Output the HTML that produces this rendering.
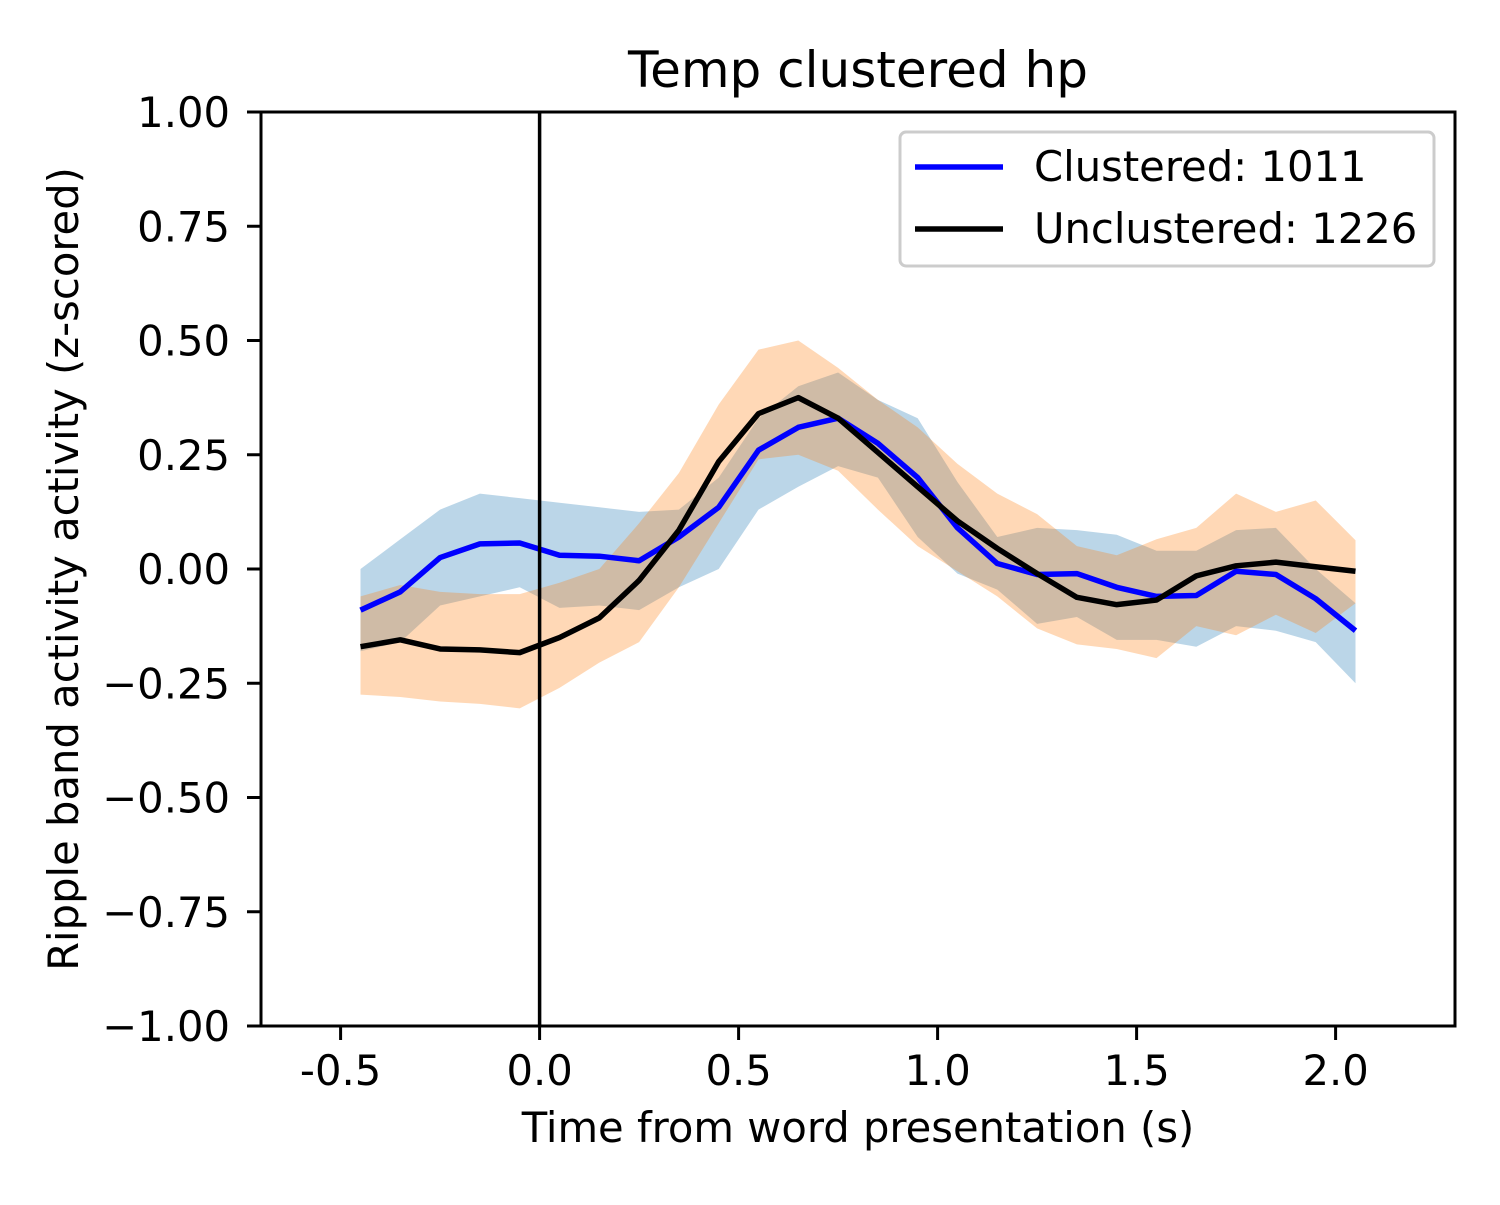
<!DOCTYPE html>
<html><head><meta charset="utf-8"><style>
body{margin:0;background:#fff}
svg text{font-family:"DejaVu Sans","Liberation Sans",sans-serif;fill:#000}
</style></head><body>
<svg id="chart" width="1500" height="1200" xmlns="http://www.w3.org/2000/svg">
<rect width="1500" height="1200" fill="#fff"/>
<g id="bands"></g><g id="lines"></g>
<g id="axes"></g>
<text x="858" y="87" font-size="50" text-anchor="middle">Temp clustered hp</text>
<text x="858" y="1142" font-size="41.7" text-anchor="middle">Time from word presentation (s)</text>
<text transform="translate(78,569) rotate(-90)" font-size="41.7" text-anchor="middle">Ripple band activity activity (z-scored)</text>
<g>
<rect x="900" y="132" width="534" height="134" rx="6" fill="#fff" fill-opacity="0.8" stroke="#ccc" stroke-width="3"/>
<line x1="915" y1="167" x2="1003" y2="167" stroke="#0000ff" stroke-width="5.5"/>
<text x="1034" y="181" font-size="41.7">Clustered: 1011</text>
<line x1="915" y1="229" x2="1003" y2="229" stroke="#000" stroke-width="5.5"/>
<text x="1034" y="243" font-size="41.7">Unclustered: 1226</text>
</g>
</svg>
<script>
const times=[-0.45,-0.35,-0.25,-0.15,-0.05,0.05,0.15,0.25,0.35,0.45,0.55,0.65,0.75,0.85,0.95,1.05,1.15,1.25,1.35,1.45,1.55,1.65,1.75,1.85,1.95,2.05];
const clustered=[-0.09,-0.05,0.025,0.055,0.057,0.03,0.028,0.018,0.07,0.135,0.26,0.31,0.33,0.275,0.2,0.09,0.012,-0.012,-0.01,-0.04,-0.06,-0.058,-0.005,-0.012,-0.065,-0.135];
const unclustered=[-0.17,-0.155,-0.175,-0.177,-0.183,-0.15,-0.107,-0.025,0.085,0.235,0.34,0.375,0.33,0.255,0.18,0.105,0.045,-0.01,-0.062,-0.078,-0.068,-0.015,0.007,0.015,0.005,-0.005];
const clusteredUpper=[0.0,0.065,0.13,0.165,0.155,0.145,0.135,0.125,0.13,0.2,0.33,0.4,0.43,0.37,0.33,0.19,0.07,0.09,0.085,0.075,0.04,0.04,0.085,0.09,0.0,-0.075];
const clusteredLower=[-0.18,-0.16,-0.08,-0.06,-0.04,-0.085,-0.08,-0.09,-0.04,0.0,0.13,0.18,0.225,0.2,0.07,-0.01,-0.045,-0.12,-0.105,-0.155,-0.155,-0.17,-0.125,-0.135,-0.16,-0.25];
const unclusteredUpper=[-0.06,-0.035,-0.05,-0.055,-0.055,-0.03,0.0,0.1,0.21,0.36,0.48,0.5,0.44,0.37,0.31,0.23,0.165,0.12,0.05,0.03,0.065,0.09,0.165,0.125,0.15,0.063];
const unclusteredLower=[-0.275,-0.28,-0.29,-0.295,-0.305,-0.26,-0.205,-0.16,-0.04,0.1,0.24,0.25,0.215,0.13,0.05,-0.005,-0.06,-0.13,-0.165,-0.175,-0.195,-0.125,-0.145,-0.1,-0.14,-0.075];
const xTicks=[-0.5,0.0,0.5,1.0,1.5,2.0];
const xTickLabels=["-0.5","0.0","0.5","1.0","1.5","2.0"];
const yTicks=[1,0.75,0.5,0.25,0,-0.25,-0.5,-0.75,-1];
const yTickLabels=["1.00","0.75","0.50","0.25","0.00","\u22120.25","\u22120.50","\u22120.75","\u22121.00"];

const L=261,R=1455,T=112,B=1026,XMIN=-0.7,XMAX=2.3,YMIN=-1,YMAX=1;
const sx=v=>L+(v-XMIN)/(XMAX-XMIN)*(R-L);
const sy=v=>B-(v-YMIN)/(YMAX-YMIN)*(B-T);
const NS="http://www.w3.org/2000/svg";
function mk(tag,attrs,parent){const e=document.createElementNS(NS,tag);for(const k in attrs)e.setAttribute(k,attrs[k]);parent.appendChild(e);return e;}
const bands=document.getElementById('bands'),lines=document.getElementById('lines'),axes=document.getElementById('axes');
function band(up,lo,color){
  let pts=times.map((t,i)=>sx(t)+','+sy(up[i]));
  pts=pts.concat(times.map((t,i)=>sx(t)+','+sy(lo[i])).reverse());
  const p=mk('polygon',{points:pts.join(' '),fill:color,'fill-opacity':0.3},bands);
  
  return p;
}
const b1=band(clusteredUpper,clusteredLower,'#1f77b4');

const b2=band(unclusteredUpper,unclusteredLower,'#ff7f0e');

function line(vals,color){
  return mk('polyline',{points:times.map((t,i)=>sx(t)+','+sy(vals[i])).join(' '),fill:'none',stroke:color,'stroke-width':5.5,'stroke-linejoin':'round'},lines);
}
const l1=line(clustered,'#0000ff');


const l2=line(unclustered,'#000');


const vl=mk('line',{x1:sx(0),x2:sx(0),y1:T,y2:B,stroke:'#000','stroke-width':3.5},lines);


const fr=mk('rect',{x:L,y:T,width:R-L,height:B-T,fill:'none',stroke:'#000','stroke-width':3},axes);


xTicks.forEach((v,i)=>{
  mk('line',{x1:sx(v),x2:sx(v),y1:B,y2:B+14,stroke:'#000','stroke-width':3},axes);
  const t=mk('text',{x:sx(v),y:1085,'font-size':41.7,'text-anchor':'middle'},axes);
  t.textContent=xTickLabels[i];
  
  
});
yTicks.forEach((v,i)=>{
  mk('line',{x1:L-14,x2:L,y1:sy(v),y2:sy(v),stroke:'#000','stroke-width':3},axes);
  const t=mk('text',{x:L-31,y:sy(v)+15,'font-size':41.7,'text-anchor':'end'},axes);
  t.textContent=yTickLabels[i];
  
  
});
</script>
</body></html>
